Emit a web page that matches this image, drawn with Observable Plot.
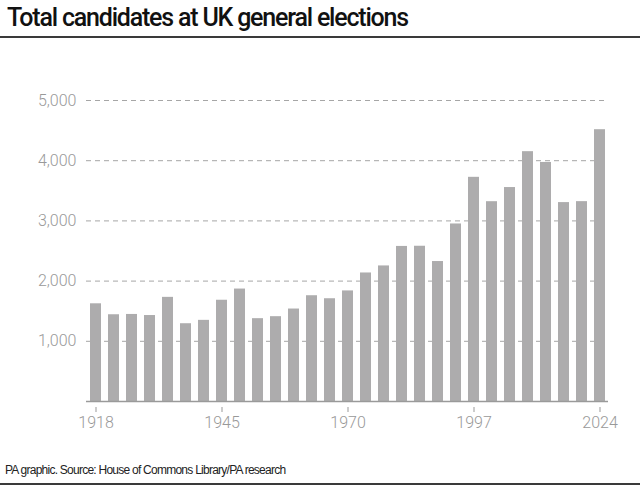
<!DOCTYPE html>
<html>
<head>
<meta charset="utf-8">
<script src="https://cdn.jsdelivr.net/npm/d3@7"></script>
<script src="https://cdn.jsdelivr.net/npm/@observablehq/plot@0.6"></script>
<style>
  html, body { margin: 0; padding: 0; background: #fff; }
  #wrap { position: relative; width: 640px; height: 490px; overflow: hidden; font-family: "Liberation Sans", Arial, sans-serif; }
  #title { position: absolute; left: 7px; top: 3px; font-size: 25px; line-height: 30px; font-weight: 500; color: #111; letter-spacing: -1.2px; font-family: Roboto, "Liberation Sans", sans-serif; white-space: nowrap; }
  .rule { position: absolute; left: 0; width: 640px; height: 2px; background: #3a3a3a; }
  #chart { position: absolute; left: 0; top: 40px; }
  #caption { position: absolute; left: 5px; top: 462px; font-size: 12px; line-height: 16px; color: #222; letter-spacing: -0.75px; white-space: nowrap; }
</style>
</head>
<body>
<div id="wrap">
  <div id="title">Total candidates at UK general elections</div>
  <div class="rule" style="top:36px"></div>
  <div id="chart"></div>
  <div id="caption">PA graphic. Source: House of Commons Library/PA research</div>
  <div class="rule" style="top:483px"></div>
</div>
<script>
const elections = ["1918","1922","1923","1924","1929","1931","1935","1945","1950","1951","1955","1959","1964","1966","1970","Feb 1974","Oct 1974","1979","1983","1987","1992","1997","2001","2005","2010","2015","2017","2019","2024"];
const candidates = [1623,1441,1446,1428,1730,1292,1348,1682,1868,1376,1409,1536,1757,1707,1837,2135,2252,2576,2579,2325,2949,3724,3319,3554,4150,3971,3304,3320,4515];
const xTicks = ["1918","1945","1970","1997","2024"];
const yTicks = [1000,2000,3000,4000,5000];

const data = elections.map((e, i) => ({election: e, total: candidates[i]}));

const chart = Plot.plot({
  width: 640,
  height: 420,
  marginLeft: 86,
  marginRight: 32,
  marginTop: 60,
  marginBottom: 53,
  style: {fontFamily: "Roboto, 'Liberation Sans', sans-serif", fontSize: "16px", color: "#999", background: "transparent"},
  x: {domain: elections, paddingInner: 0.4, paddingOuter: 0.2, label: null},
  y: {domain: [0, 5000], insetBottom: 6, label: null},
  marks: [
    Plot.gridY(yTicks, {stroke: "#a6a6a6", strokeOpacity: 1, strokeDasharray: "5,4", strokeWidth: 1}),
    Plot.barY(data, {x: "election", y: "total", fill: "#adacad"}),
    Plot.ruleY([0], {stroke: "#9a9a9a", strokeWidth: 1.5}),
    Plot.axisY(yTicks, {tickSize: 0, tickPadding: 10, tickFormat: d3.format(","), fill: "#999", fontWeight: 300, label: null}),
    Plot.axisX(xTicks, {tickSize: 5, tickPadding: 4, stroke: "#999", fill: "#999", fontWeight: 300, label: null})
  ]
});
document.getElementById("chart").appendChild(chart);
</script>
</body>
</html>
